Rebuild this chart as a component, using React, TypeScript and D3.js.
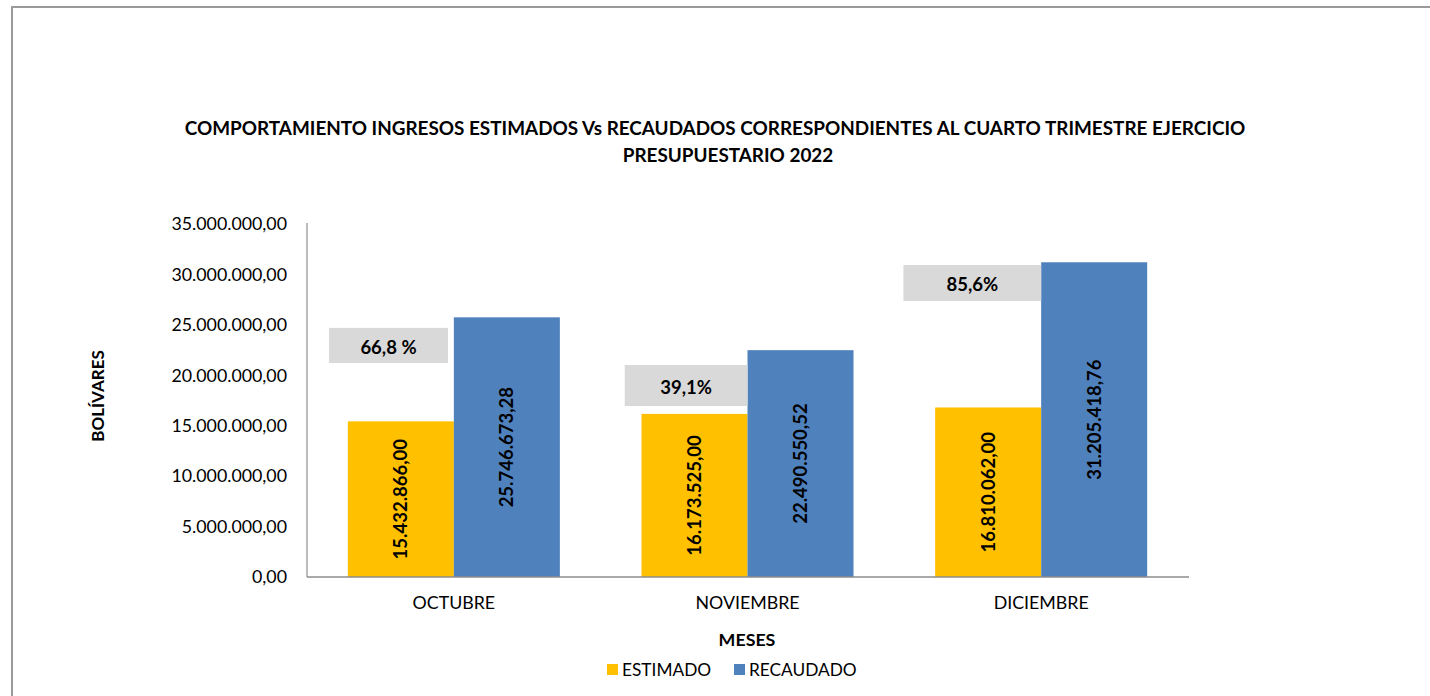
import React from "react";
import * as d3 from "d3";

const categories = ["OCTUBRE", "NOVIEMBRE", "DICIEMBRE"];
const seriesNames = ["ESTIMADO", "RECAUDADO"];
const estimado = [15432866.0, 16173525.0, 16810062.0];
const recaudado = [25746673.28, 22490550.52, 31205418.76];
const yTicks = [0, 5000000, 10000000, 15000000, 20000000, 25000000, 30000000, 35000000];
const pctLabels = ["66,8 %", "39,1%", "85,6%"];
// annotation box extents in data units (value top / bottom)
const pctBoxTop = [24700000, 21020000, 30930000];
const pctBoxBottom = [21220000, 16950000, 27370000];

const colors = ["#FFC000", "#4F81BD"];
const FONT = "Lato, 'Open Sans', sans-serif";

const W = 1430;
const H = 696;
const plot = { left: 307, right: 1188, top: 224, bottom: 577 };
// box horizontal placement as fraction of category band
const boxX0 = [0.075, 0.082, 0.031];
const boxX1 = [0.48, 0.5, 0.5];

const locale = d3.formatLocale({ decimal: ",", thousands: ".", grouping: [3], currency: ["", ""] });
const fmt = locale.format(",.2f");

export default function App() {
  const x0 = d3.scaleBand<string>().domain(categories).range([plot.left, plot.right]).paddingInner(0).paddingOuter(0);
  const x1 = d3.scaleBand<string>().domain(seriesNames).range([0, x0.bandwidth()]).paddingInner(0).paddingOuter(0.385);
  const y = d3.scaleLinear().domain([0, 35000000]).range([plot.bottom, plot.top]);
  const values = [estimado, recaudado];

  return (
    <svg width={W} height={H} style={{ position: "absolute", left: 0, top: 0, background: "#fff" }} fontFamily={FONT}>
      <rect x={12} y={7} width={W + 20} height={H + 20} fill="#fff" stroke="#9a9a9a" strokeWidth={2} />
      <text x={715} y={135} textAnchor="middle" fontSize={18.9} fontWeight="bold" fill="#000">
        COMPORTAMIENTO INGRESOS ESTIMADOS Vs RECAUDADOS CORRESPONDIENTES AL CUARTO TRIMESTRE EJERCICIO
      </text>
      <text x={728} y={162} textAnchor="middle" fontSize={18.9} fontWeight="bold" fill="#000">
        PRESUPUESTARIO 2022
      </text>

      {yTicks.map((t) => (
        <text key={t} x={plot.left - 20} y={y(t)} dy="0.35em" textAnchor="end" fontSize={17.8} fill="#000">
          {fmt(t)}
        </text>
      ))}

      {categories.map((c, i) =>
        seriesNames.map((s, j) => {
          const v = values[j][i];
          const bx = (x0(c) as number) + (x1(s) as number);
          const bw = x1.bandwidth();
          return (
            <g key={c + s}>
              <rect x={bx} y={y(v)} width={bw} height={y(0) - y(v)} fill={colors[j]} />
              <text
                transform={`translate(${bx + bw / 2},${(y(v) + y(0)) / 2}) rotate(-90)`}
                textAnchor="middle"
                dy="0.35em"
                fontSize={18.5}
                fontWeight="bold"
                fill="#000"
              >
                {fmt(v)}
              </text>
            </g>
          );
        })
      )}

      {categories.map((c, i) => {
        const bs = x0(c) as number;
        const bwid = x0.bandwidth();
        const xa = bs + boxX0[i] * bwid;
        const xb = bs + boxX1[i] * bwid;
        const ya = y(pctBoxTop[i]);
        const yb = y(pctBoxBottom[i]);
        return (
          <g key={"p" + c}>
            <rect x={xa} y={ya} width={xb - xa} height={yb - ya} fill="#D9D9D9" />
            <text x={(xa + xb) / 2} y={(ya + yb) / 2 + 2} dy="0.35em" textAnchor="middle" fontSize={18.5} fontWeight="bold" fill="#000">
              {pctLabels[i]}
            </text>
          </g>
        );
      })}

      <line x1={plot.left} x2={plot.left} y1={plot.top - 1} y2={plot.bottom} stroke="#a6a6a6" strokeWidth={1.5} />
      <line x1={plot.left} x2={plot.right + 1} y1={plot.bottom} y2={plot.bottom} stroke="#8c8c8c" strokeWidth={1.5} />

      {categories.map((c) => (
        <text key={"c" + c} x={(x0(c) as number) + x0.bandwidth() / 2} y={603} dy="0.35em" textAnchor="middle" fontSize={17.8} fill="#000">
          {c}
        </text>
      ))}

      <text x={747} y={640} dy="0.35em" textAnchor="middle" fontSize={17.8} fontWeight="bold" fill="#000">
        MESES
      </text>
      <text transform="translate(98,396) rotate(-90)" dy="0.35em" textAnchor="middle" fontSize={17} fontWeight="bold" fill="#000">
        BOLÍVARES
      </text>

      {seriesNames.map((s, j) => {
        const lx = [607, 734][j];
        return (
          <g key={"l" + s}>
            <rect x={lx} y={664} width={11} height={11} fill={colors[j]} />
            <text x={lx + 15} y={669.5} dy="0.35em" fontSize={17.3} fill="#000">
              {s}
            </text>
          </g>
        );
      })}
    </svg>
  );
}
